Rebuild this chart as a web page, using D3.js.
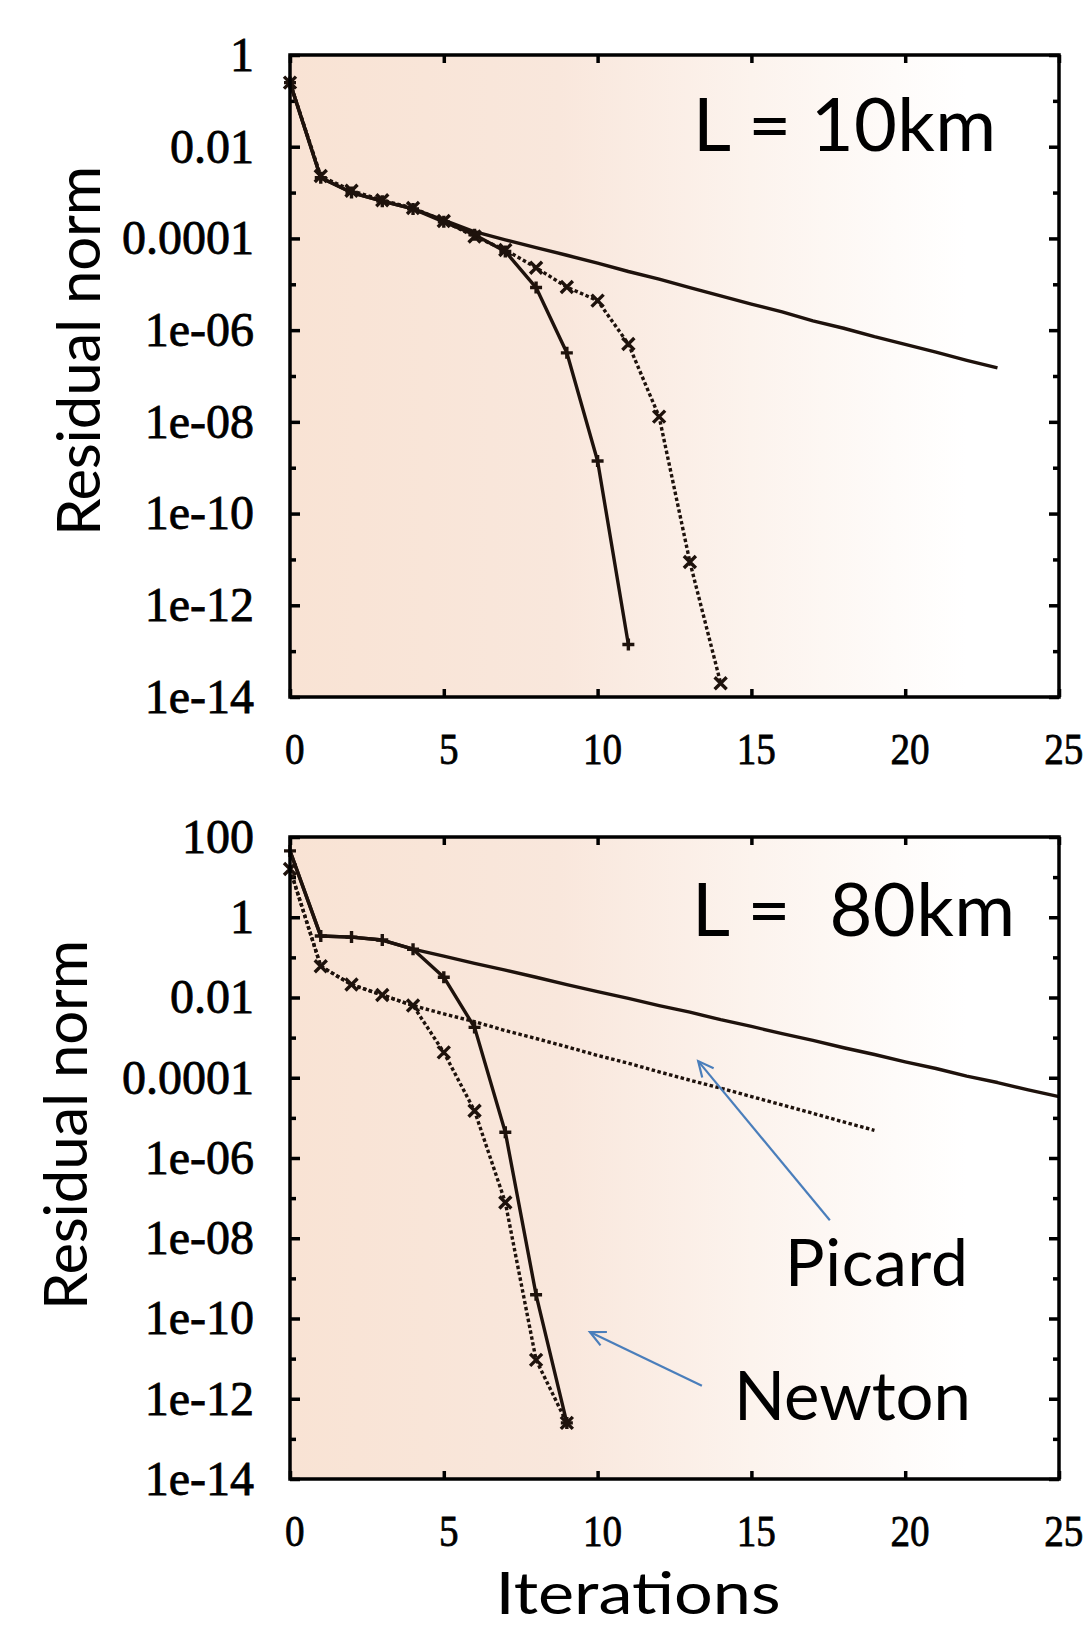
<!DOCTYPE html>
<html>
<head>
<meta charset="utf-8">
<script src="https://cdn.jsdelivr.net/npm/d3@7"></script>
<style>
  body { margin: 0; background: #fff; }
</style>
</head>
<body>
<script>
// x axis (iterations)
var xTicks = [0, 5, 10, 15, 20, 25];

// y axis, L = 10km
var yTicks10 = [1, 1e-2, 1e-4, 1e-6, 1e-8, 1e-10, 1e-12, 1e-14];
var yLabels10 = ["1", "0.01", "0.0001", "1e-06", "1e-08", "1e-10", "1e-12", "1e-14"];
var yMinor10 = [1e-1, 1e-3, 1e-5, 1e-7, 1e-9, 1e-11, 1e-13];

// y axis, L = 80km
var yTicks80 = [100, 1, 1e-2, 1e-4, 1e-6, 1e-8, 1e-10, 1e-12, 1e-14];
var yLabels80 = ["100", "1", "0.01", "0.0001", "1e-06", "1e-08", "1e-10", "1e-12", "1e-14"];
var yMinor80 = [10, 1e-1, 1e-3, 1e-5, 1e-7, 1e-9, 1e-11, 1e-13];

// residual norm per iteration (index = iteration), L = 10km
var picardSolid10 = [0.25, 2.1e-3, 1.0e-3, 6.5e-4, 4.4e-4, 2.5e-4, 1.4e-4, 9.3e-5, 6.3e-5, 4.3e-5,
  2.9e-5, 1.9e-5, 1.3e-5, 8.5e-6, 5.6e-6, 3.7e-6, 2.5e-6, 1.6e-6, 1.1e-6, 7.2e-7, 4.9e-7, 3.3e-7, 2.2e-7, 1.5e-7];
var newtonSolid10 = [0.25, 2.1e-3, 1.0e-3, 6.5e-4, 4.4e-4, 2.3e-4, 1.2e-4, 5.2e-5, 8.5e-6, 3.2e-7, 1.4e-9, 1.4e-13];
var newtonDotted10 = [0.25, 2.3e-3, 1.1e-3, 6.8e-4, 4.6e-4, 2.4e-4, 1.1e-4, 5.6e-5, 2.3e-5, 8.7e-6,
  4.4e-6, 5.0e-7, 1.3e-8, 8.8e-12, 2.0e-14];

// residual norm per iteration, L = 80km
var picardSolid80 = [45, 0.34, 0.32, 0.27, 0.16, 0.107, 0.071, 0.048, 0.032, 0.021, 0.014, 9.5e-3, 6.3e-3,
  4.3e-3, 2.8e-3, 1.9e-3, 1.26e-3, 8.5e-4, 5.6e-4, 3.8e-4, 2.5e-4, 1.7e-4, 1.1e-4, 7.6e-5, 5.0e-5, 3.4e-5];
var picardDotted80 = [16, 0.060, 0.021, 0.0115, 6.3e-3, 3.9e-3, 2.5e-3, 1.5e-3, 9.5e-4, 5.9e-4, 3.6e-4,
  2.3e-4, 1.4e-4, 8.7e-5, 5.5e-5, 3.4e-5, 2.1e-5, 1.3e-5, 7.9e-6, 4.9e-6];
var newtonSolid80 = [45, 0.34, 0.32, 0.27, 0.16, 0.032, 1.8e-3, 4.4e-6, 3.9e-10, 2.5e-13];
var newtonDotted80 = [16, 0.060, 0.021, 0.0115, 6.3e-3, 4.3e-4, 1.5e-5, 7.8e-8, 9.3e-12, 2.5e-13];

// arrows [iteration, value] tail -> head, bottom panel
var picardArrow = [[17.55, 2.8e-8], [13.27, 2.6e-4]];
var newtonArrow = [[13.39, 2.1e-12], [9.75, 4.6e-11]];

var width = 1090;
var height = 1628;
var ink = "#1e120c";
var serif = "'Liberation Serif', 'Times New Roman', serif";
var sans = "Lato, 'Open Sans', sans-serif";

var svg = d3.select("body")
  .append("svg")
  .attr("width", width)
  .attr("height", height);

var defs = svg.append("defs");

var x = d3.scaleLinear().domain([0, 25]).range([290, 1059]);

var plusPath = "M-6,0H6M0,-6V6";
var timesPath = "M-6,-6L6,6M-6,6L6,-6";

function drawPanel(p) {
  var y = d3.scaleLog().domain(p.yDomain).range([p.top, p.bottom]);
  var g = svg.append("g");

  // background gradient
  var grad = defs.append("linearGradient")
    .attr("id", p.id)
    .attr("x1", 0).attr("x2", 1).attr("y1", 0).attr("y2", 0);
  grad.append("stop").attr("offset", 0).attr("stop-color", "#f9e3d4");
  grad.append("stop").attr("offset", 0.35).attr("stop-color", "#f9e7dc");
  grad.append("stop").attr("offset", 0.6).attr("stop-color", "#fcf3ed");
  grad.append("stop").attr("offset", 0.88).attr("stop-color", "#ffffff");

  g.append("rect")
    .attr("x", x(0)).attr("y", p.top)
    .attr("width", x(25) - x(0)).attr("height", p.bottom - p.top)
    .style("fill", "url(#" + p.id + ")");

  // axes
  var left = g.append("g").attr("transform", "translate(" + x(0) + ",0)")
    .call(d3.axisLeft(y).tickValues(p.yTicks)
      .tickFormat(function (d, i) { return p.yLabels[i]; })
      .tickSizeInner(-10).tickSizeOuter(0).tickPadding(36));
  var leftMinor = g.append("g").attr("transform", "translate(" + x(0) + ",0)")
    .call(d3.axisLeft(y).tickValues(p.yMinor).tickFormat("").tickSizeInner(-6).tickSizeOuter(0));
  var right = g.append("g").attr("transform", "translate(" + x(25) + ",0)")
    .call(d3.axisRight(y).tickValues(p.yTicks).tickFormat("").tickSizeInner(-10).tickSizeOuter(0));
  var rightMinor = g.append("g").attr("transform", "translate(" + x(25) + ",0)")
    .call(d3.axisRight(y).tickValues(p.yMinor).tickFormat("").tickSizeInner(-6).tickSizeOuter(0));
  var bottom = g.append("g").attr("transform", "translate(0," + p.bottom + ")")
    .call(d3.axisBottom(x).tickValues(xTicks).tickFormat(d3.format("d"))
      .tickSizeInner(-8).tickSizeOuter(0).tickPadding(35));
  var top = g.append("g").attr("transform", "translate(0," + p.top + ")")
    .call(d3.axisTop(x).tickValues(xTicks).tickFormat("").tickSizeInner(-8).tickSizeOuter(0));

  [left, leftMinor, right, rightMinor, bottom, top].forEach(function (a) {
    a.select(".domain").remove();
    a.selectAll(".tick line").attr("stroke", "#000").attr("stroke-width", 3.5);
  });

  left.selectAll("text")
    .style("font-family", serif).style("font-size", "48px")
    .attr("fill", "#000").attr("stroke", "#000").attr("stroke-width", 0.8);
  bottom.selectAll("text")
    .style("font-family", serif).style("font-size", "45px")
    .attr("fill", "#000").attr("stroke", "#000").attr("stroke-width", 0.8)
    .attr("transform", "scale(0.87,1)").attr("dx", 5);

  // data
  var line = d3.line()
    .x(function (d, i) { return x(i); })
    .y(function (d) { return y(d); });

  p.series.forEach(function (s) {
    g.append("path")
      .datum(s.values)
      .attr("d", line)
      .attr("fill", "none")
      .attr("stroke", ink)
      .attr("stroke-width", 3.4)
      .attr("stroke-linejoin", "round")
      .attr("stroke-dasharray", s.dotted ? "3.5,2.5" : null);
  });

  p.series.forEach(function (s) {
    if (!s.marker) return;
    g.selectAll(null)
      .data(s.values)
      .enter()
      .append("path")
      .attr("transform", function (d, i) { return "translate(" + x(i) + "," + y(d) + ")"; })
      .attr("d", s.marker)
      .attr("fill", "none")
      .attr("stroke", ink)
      .attr("stroke-width", 3.4);
  });

  // frame
  g.append("rect")
    .attr("x", x(0)).attr("y", p.top)
    .attr("width", x(25) - x(0)).attr("height", p.bottom - p.top)
    .attr("fill", "none")
    .attr("stroke", "#000")
    .attr("stroke-width", 3.5);

  // y label
  g.append("text")
    .attr("transform", "translate(" + p.yLabelX + "," + p.yLabelY + ") rotate(-90)")
    .attr("text-anchor", "middle")
    .attr("textLength", 370)
    .style("font-family", sans).style("font-size", "60px")
    .text("Residual norm");

  // panel title
  g.append("text")
    .attr("x", p.titleX).attr("y", p.titleY)
    .attr("textLength", p.titleLen)
    .style("font-family", sans).style("font-size", "74px")
    .style("white-space", "pre")
    .text(p.title);

  return y;
}

drawPanel({
  id: "bg10", top: 55, bottom: 697, yDomain: [1, 1e-14],
  yTicks: yTicks10, yLabels: yLabels10, yMinor: yMinor10,
  yLabelX: 100, yLabelY: 351, title: "L = 10km", titleX: 693, titleY: 151, titleLen: 303,
  series: [
    { values: picardSolid10, dotted: false, marker: null },
    { values: newtonDotted10, dotted: true, marker: timesPath },
    { values: newtonSolid10, dotted: false, marker: plusPath }
  ]
});

var y80 = drawPanel({
  id: "bg80", top: 837, bottom: 1479, yDomain: [100, 1e-14],
  yTicks: yTicks80, yLabels: yLabels80, yMinor: yMinor80,
  yLabelX: 87, yLabelY: 1125, title: "L =  80km", titleX: 692, titleY: 936, titleLen: 323,
  series: [
    { values: picardSolid80, dotted: false, marker: null },
    { values: picardDotted80, dotted: true, marker: null },
    { values: newtonDotted80, dotted: true, marker: timesPath },
    { values: newtonSolid80, dotted: false, marker: plusPath }
  ]
});

// annotation arrows
function arrow(a) {
  var x0 = x(a[0][0]), y0 = y80(a[0][1]);
  var x1 = x(a[1][0]), y1 = y80(a[1][1]);
  var ang = Math.atan2(y1 - y0, x1 - x0);
  var len = 17;
  var g = svg.append("g")
    .attr("stroke", "#4a7ebb")
    .attr("stroke-width", 2.2)
    .attr("fill", "none");
  g.append("line").attr("x1", x0).attr("y1", y0).attr("x2", x1).attr("y2", y1);
  g.append("path")
    .attr("d", "M" + (x1 - len * Math.cos(ang - 0.45)) + "," + (y1 - len * Math.sin(ang - 0.45)) +
      "L" + x1 + "," + y1 +
      "L" + (x1 - len * Math.cos(ang + 0.45)) + "," + (y1 - len * Math.sin(ang + 0.45)));
}
arrow(picardArrow);
arrow(newtonArrow);

svg.append("text")
  .attr("x", 785).attr("y", 1286)
  .attr("textLength", 183)
  .style("font-family", sans).style("font-size", "66px")
  .text("Picard");

svg.append("text")
  .attr("x", 734).attr("y", 1420)
  .attr("textLength", 237)
  .style("font-family", sans).style("font-size", "67px")
  .text("Newton");

svg.append("text")
  .attr("x", 638).attr("y", 1614)
  .attr("text-anchor", "middle")
  .attr("textLength", 285)
  .attr("lengthAdjust", "spacingAndGlyphs")
  .style("font-family", sans).style("font-size", "58px")
  .text("Iterations");
</script>
</body>
</html>
